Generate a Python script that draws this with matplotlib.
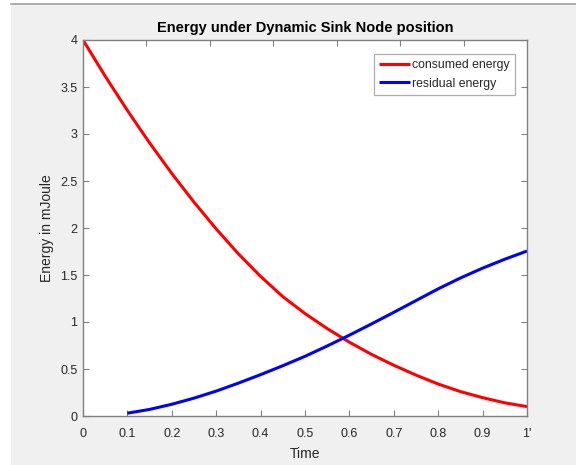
import numpy as np
import matplotlib
matplotlib.use("Agg")
import matplotlib.pyplot as plt
from matplotlib.patches import Rectangle
from matplotlib.lines import Line2D

# ── Data ──────────────────────────────────────────────────────────────────────
time_c   = [0.00, 0.05, 0.10, 0.15, 0.20, 0.25, 0.30, 0.35, 0.40, 0.45, 0.50,
            0.55, 0.60, 0.65, 0.70, 0.75, 0.80, 0.85, 0.90, 0.95, 1.00]
consumed = [4.000, 3.615, 3.250, 2.905, 2.580, 2.275, 1.990, 1.725, 1.485, 1.270, 1.090,
            0.930, 0.785, 0.655, 0.540, 0.435, 0.340, 0.260, 0.195, 0.140, 0.100]

time_r   = [0.10, 0.15, 0.20, 0.25, 0.30, 0.35, 0.40, 0.45, 0.50, 0.55,
            0.60, 0.65, 0.70, 0.75, 0.80, 0.85, 0.90, 0.95, 1.00]
residual = [0.030, 0.070, 0.125, 0.190, 0.265, 0.350, 0.440, 0.535, 0.635, 0.745,
            0.860, 0.980, 1.103, 1.228, 1.353, 1.468, 1.573, 1.668, 1.755]

xticks  = [0, 0.1, 0.2, 0.3, 0.4, 0.5, 0.6, 0.7, 0.8, 0.9, 1.0]
xlabels = ["0", "0.1", "0.2", "0.3", "0.4", "0.5", "0.6", "0.7", "0.8", "0.9", "1'"]
yticks  = [0, 0.5, 1, 1.5, 2, 2.5, 3, 3.5, 4]
ylabels = ["0", "0.5", "1", "1.5", "2", "2.5", "3", "3.5", "4"]

# ── Style ─────────────────────────────────────────────────────────────────────
plt.rcParams["font.family"] = ["Liberation Sans", "DejaVu Sans"]
W, H = 576, 465
AX_GRAY = "#808080"
TXT     = "#262626"

fig = plt.figure(figsize=(W / 100, H / 100), dpi=100)
fig.patch.set_facecolor("white")

# MATLAB-like grey window panel
fig.patches.append(Rectangle((11 / W, 0), 1 - 11 / W, 1 - 4 / H,
                             transform=fig.transFigure, facecolor="#f0f0f0",
                             edgecolor="none", zorder=-10))
fig.lines.append(Line2D([11 / W, 1], [1 - 4 / H, 1 - 4 / H],
                        transform=fig.transFigure, color="#a0a0a0", lw=1.2))

ax = fig.add_axes([83 / W, 49 / H, 444 / W, 376 / H])
ax.set_facecolor("white")

ax.plot(time_c, consumed, color="red", lw=2.2, label="consumed energy",
        solid_capstyle="butt", solid_joinstyle="round")
ax.plot(time_r, residual, color="blue", lw=2.2, label="residual energy",
        solid_capstyle="butt", solid_joinstyle="round")

ax.set_xlim(0, 1)
ax.set_ylim(0, 4)
ax.set_xticks(xticks)
ax.set_xticklabels(xlabels)
ax.set_yticks(yticks)
ax.set_yticklabels(ylabels)

for s in ax.spines.values():
    s.set_color(AX_GRAY)
    s.set_linewidth(1.0)

ax.tick_params(direction="in", length=4, width=0.8, color=AX_GRAY,
               labelcolor=TXT, labelsize=9, right=True)
ax.tick_params(axis="x", pad=8.5)
ax.tick_params(axis="y", pad=4)

# top ticks in the reference sit at sevenths of the width
top = ax.secondary_xaxis("top")
top.set_xticks([1 / 7, 2 / 7, 3 / 7, 4 / 7, 5 / 7, 6 / 7])
top.tick_params(direction="in", length=4, width=0.8, color=AX_GRAY,
                labeltop=False)
top.spines["top"].set_visible(False)

ax.set_title("Energy under Dynamic Sink Node position", fontsize=10.5,
             fontweight="bold", color="black", pad=6)
ax.set_xlabel("Time", fontsize=10, color=TXT, labelpad=5)
ax.set_ylabel("Energy in mJoule", fontsize=10, color=TXT, labelpad=4.5)

leg = ax.legend(loc="upper right", bbox_to_anchor=(0.973, 0.963),
                fontsize=8.8, frameon=True, fancybox=False,
                handlelength=2.5, handletextpad=0.15, borderpad=0.45,
                labelspacing=0.5, borderaxespad=0.0)
leg.get_frame().set_edgecolor("#9a9a9a")
leg.get_frame().set_linewidth(0.9)
for t in leg.get_texts():
    t.set_color(TXT)

fig.savefig("out.png", dpi=100, facecolor=fig.get_facecolor())
